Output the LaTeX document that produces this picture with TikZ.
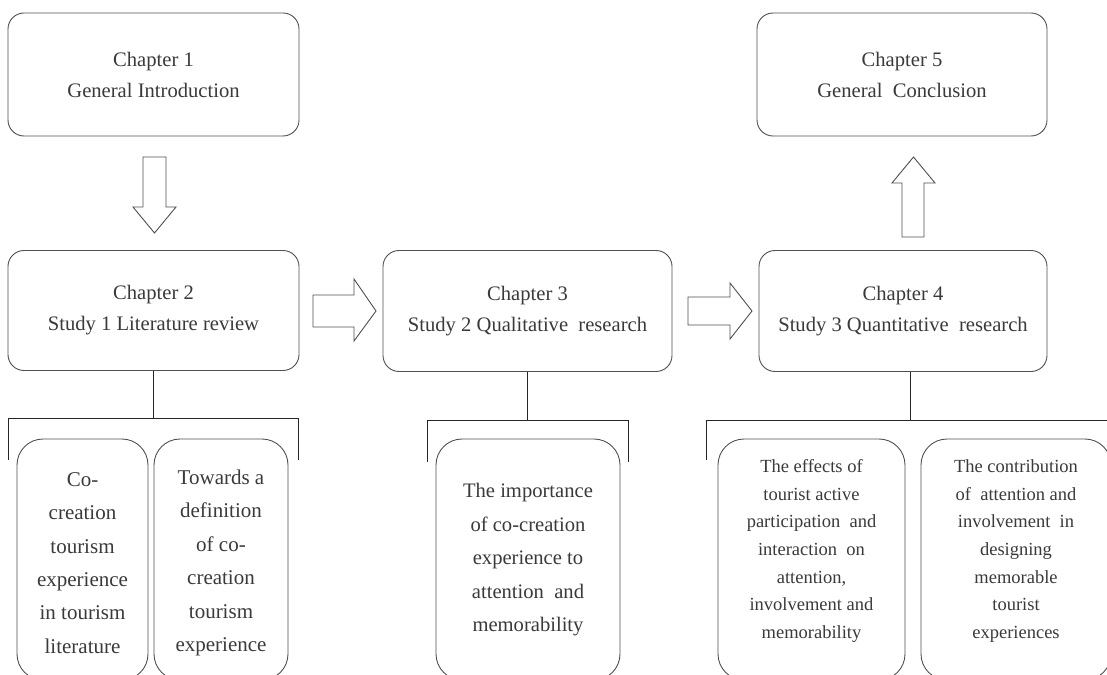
\documentclass[tikz,border=0pt]{standalone}
\usepackage{fontspec}
\setmainfont{Liberation Serif}
\definecolor{txt}{HTML}{3A3A3A}
\definecolor{brd}{HTML}{505050}
\tikzset{
  chbox/.style={draw=brd, line width=0.9bp, rounded corners=16bp, inner sep=0pt, outer sep=0pt,
    text=txt, align=center, font=\fontsize{20.6bp}{31bp}\selectfont},
  subbox/.style={draw=brd, line width=0.9bp, rounded corners=26bp, inner sep=0pt, outer sep=0pt},
  subtxt/.style={text=txt, align=center, inner sep=0pt, font=\fontsize{21bp}{33.4bp}\selectfont},
  subtxtsm/.style={text=txt, align=center, inner sep=0pt, font=\fontsize{18.5bp}{27.6bp}\selectfont},
  blockarrow/.style={draw=brd, line width=0.9bp, fill=white},
  tree/.style={draw=black!85, line width=0.9bp}
}
\begin{document}
\begin{tikzpicture}[x=1bp,y=-1bp]
\useasboundingbox (0,0) rectangle (1107,675);
\clip (0,0) rectangle (1107,675);
\fill[white] (0,0) rectangle (1107,675);

% chapter boxes
\node[chbox, minimum width=291bp, minimum height=123bp] (ch1) at (153.5,74.5) {Chapter 1\\General Introduction};
\node[chbox, minimum width=291bp, minimum height=120bp] (ch2) at (153.5,310.5) {Chapter 2\\Study 1 Literature review};
\node[chbox, minimum width=289bp, minimum height=121bp] (ch3) at (527.5,311) {Chapter 3\\Study 2 Qualitative\ \ research};
\node[chbox, minimum width=288bp, minimum height=121bp] (ch4) at (903,311) {Chapter 4\\Study 3 Quantitative\ \ research};
\node[chbox, minimum width=290bp, minimum height=123bp] (ch5) at (902,74.5) {Chapter 5\\General\ \ Conclusion};

% block arrows
\draw[blockarrow] (143,157) -- (166,157) -- (166,207) -- (176,207) -- (154.5,233) -- (133,207) -- (143,207) -- cycle;
\draw[blockarrow] (902,237) -- (924,237) -- (924,183) -- (935,183) -- (913.5,157) -- (892,183) -- (902,183) -- cycle;
\draw[blockarrow] (313,295) -- (354,295) -- (354,279) -- (376,311) -- (354,341) -- (354,327) -- (313,327) -- cycle;
\draw[blockarrow] (688,297) -- (730,297) -- (730,283) -- (752,311) -- (730,339) -- (730,325) -- (688,325) -- cycle;

% sub boxes
\node[subbox, minimum width=131bp, minimum height=241bp] (s1a) at (82.5,559.5) {};
\node[subbox, minimum width=134bp, minimum height=241bp] (s1b) at (221,559.5) {};
\node[subbox, minimum width=184bp, minimum height=241bp] (s2a) at (528,559.5) {};
\node[subbox, minimum width=187bp, minimum height=241bp] (s3a) at (811.5,559.5) {};
\node[subbox, minimum width=190bp, minimum height=241bp] (s3b) at (1016,559.5) {};

\node[subtxt] (t1a) at (82.5,563) {Co-\\creation\\tourism\\experience\\in tourism\\literature};
\node[subtxt] (t1b) at (221,563) {Towards a\\definition\\of co-\\creation\\tourism\\experience};
\node[subtxt, font=\fontsize{20.6bp}{33.5bp}\selectfont] (t2a) at (528,560) {The importance\\of co-creation\\experience to\\attention\ \ and\\memorability};
\node[subtxtsm] (t3a) at (811.5,551) {The effects of\\tourist active\\participation\ \ and\\interaction\ \ on\\attention,\\involvement and\\memorability};
\node[subtxtsm] (t3b) at (1016,551) {The contribution\\of\ \ attention and\\involvement\ \ in\\designing\\memorable\\tourist\\experiences};

% tree connectors
\coordinate (j1) at (153.5,418);
\coordinate (j2) at (527.5,420);
\coordinate (j3) at (910,420);
\draw[tree] (ch2.south) -- (j1);
\draw[tree] (8,460) -- (8,418) -- (298,418) -- (298,460);
\draw[tree] (ch3.south) -- (j2);
\draw[tree] (427,462) -- (427,420) -- (628,420) -- (628,462);
\draw[tree] (ch4.south -| j3) -- (j3);
\draw[tree] (706,460) -- (706,420) -- (1115,420);
\end{tikzpicture}
\end{document}
